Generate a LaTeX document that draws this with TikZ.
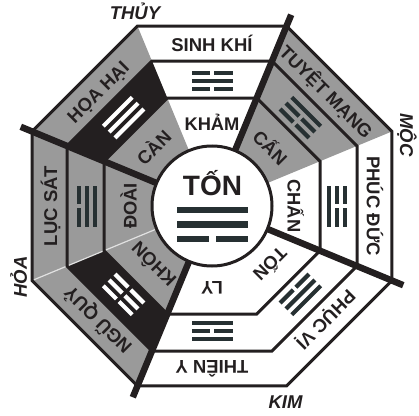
\documentclass[tikz,border=0pt]{standalone}
\usepackage{fontspec}
\setmainfont{Liberation Sans}
\definecolor{ink}{HTML}{231F20}
\definecolor{sect}{HTML}{9A9A9A}
\definecolor{trig}{HTML}{263032}
\newcommand\triline[2]{%
  \ifnum#2=1
    \fill (-20.5,#1-2.1) rectangle (20.5,#1+2.1);
  \else
    \fill (-20.5,#1-2.1) rectangle (-1.8,#1+2.1);
    \fill (1.8,#1-2.1) rectangle (20.5,#1+2.1);
  \fi}
\newcommand\trigram[5]{%
  \begin{scope}[shift={(#1:125)},rotate=#1-90,fill=#2]
    \triline{8.3}{#3}\triline{0}{#4}\triline{-8.3}{#5}
  \end{scope}}
\tikzset{
  outerlbl/.style={font=\bfseries\fontsize{18.5}{20}\selectfont, text=ink, inner sep=0pt, anchor=base},
  innerlbl/.style={font=\bfseries\fontsize{18.3}{20}\selectfont, text=ink, inner sep=0pt, anchor=base},
  elemlbl/.style={font=\bfseries\itshape\fontsize{18.5}{20}\selectfont, text=ink, inner sep=0pt, anchor=base},
  ring/.style={draw=ink, line width=3, line join=miter},
  divider/.style={draw=ink, line width=6.5},
}
\begin{document}
\begin{tikzpicture}[x=1pt,y=1pt]
\useasboundingbox (-212,-209) rectangle (207,206);
% gray sectors
\foreach \a in {45,135,180,225}
  \fill[sect] (0,0) -- (\a-22.5:194.83) -- (\a+22.5:194.83) -- cycle;
% black middle bands
\foreach \a in {135,225}
  \fill[ink] (\a-22.5:116.9) -- (\a+22.5:116.9) -- (\a+22.5:156.95) -- (\a-22.5:156.95) -- cycle;
% light separation between W and SW
\draw[white!70!sect, line width=1.2] (202.5:60) -- (202.5:194);
% octagonal rings
\foreach \r in {194.83,156.95,116.9}
  \path[ring] (22.5:\r) -- (67.5:\r) -- (112.5:\r) -- (157.5:\r) -- (202.5:\r) -- (247.5:\r) -- (292.5:\r) -- (337.5:\r) -- cycle;
% thick dividers
\foreach \a in {67.5,157.5,247.5,337.5}
  \path[divider] (\a:50) -- (\a:207);
% centre circle
\node[circle, draw=ink, fill=white, line width=3, minimum size=120pt, inner sep=0pt] (core) at (0,0) {};
% trigrams (outer, middle, inner)
\trigram{90}{trig}{0}{1}{0}
\trigram{45}{trig}{1}{0}{0}
\trigram{0}{trig}{0}{0}{1}
\trigram{-45}{trig}{1}{1}{0}
\trigram{-90}{trig}{1}{0}{1}
\trigram{225}{white}{0}{0}{0}
\trigram{180}{trig}{0}{1}{1}
\trigram{135}{white}{1}{1}{1}
% centre
\node[font=\bfseries\fontsize{28}{30}\selectfont, text=ink, inner sep=0pt, anchor=base] (ton) at (0.5,11) {TỐN};
\fill[trig] (-35.3,-7.35) rectangle (36.3,-0.65);
\fill[trig] (-35.3,-21.65) rectangle (36.3,-14.95);
\fill[trig] (-35.3,-36.35) rectangle (-3.3,-29.65);
\fill[trig] (4.4,-36.35) rectangle (36.3,-29.65);
% outer labels
\node[outerlbl, rotate=0]    (oN)  at (90:154.8)  {SINH KHÍ};
\node[outerlbl, rotate=-45]  (oNE) at (45:154.8)  {TUYỆT MẠNG};
\node[outerlbl, rotate=-90]  (oE)  at (0:154.8)   {PHÚC ĐỨC};
\node[outerlbl, rotate=-135] (oSE) at (-45:154.8) {PHỤC VỊ};
\node[outerlbl, rotate=180]  (oS)  at (-90:154.8) {THIÊN Y};
\node[outerlbl, rotate=135]  (oSW) at (225:154.8) {NGŨ QUỶ};
\node[outerlbl, rotate=90]   (oW)  at (180:154.8) {LỤC SÁT};
\node[outerlbl, rotate=45]   (oNW) at (135:154.8) {HỌA HẠI};
% inner labels
\node[innerlbl, rotate=0]    (iN)  at (90:75.5)  {KHẢM};
\node[innerlbl, rotate=-45]  (iNE) at (45:75.5)  {CẤN};
\node[innerlbl, rotate=-90]  (iE)  at (0:75.5)   {CHẤN};
\node[innerlbl, rotate=-135] (iSE) at (-45:75.5) {TỐN};
\node[innerlbl, rotate=180]  (iS)  at (-90:75.5) {LY};
\node[innerlbl, rotate=135]  (iSW) at (225:75.5) {KHÔN};
\node[innerlbl, rotate=90]   (iW)  at (180:75.5) {ĐOÀI};
\node[innerlbl, rotate=45]   (iNW) at (135:75.5) {CÀN};
% elements
\node[elemlbl] (eThuy) at (-77,186) {THỦY};
\node[elemlbl, rotate=-90] (eMoc) at (188,71) {MỘC};
\node[elemlbl] (eKim) at (73.5,-202) {KIM};
\node[elemlbl, rotate=90] (eHoa) at (-185,-71) {HỎA};
\end{tikzpicture}
\end{document}
